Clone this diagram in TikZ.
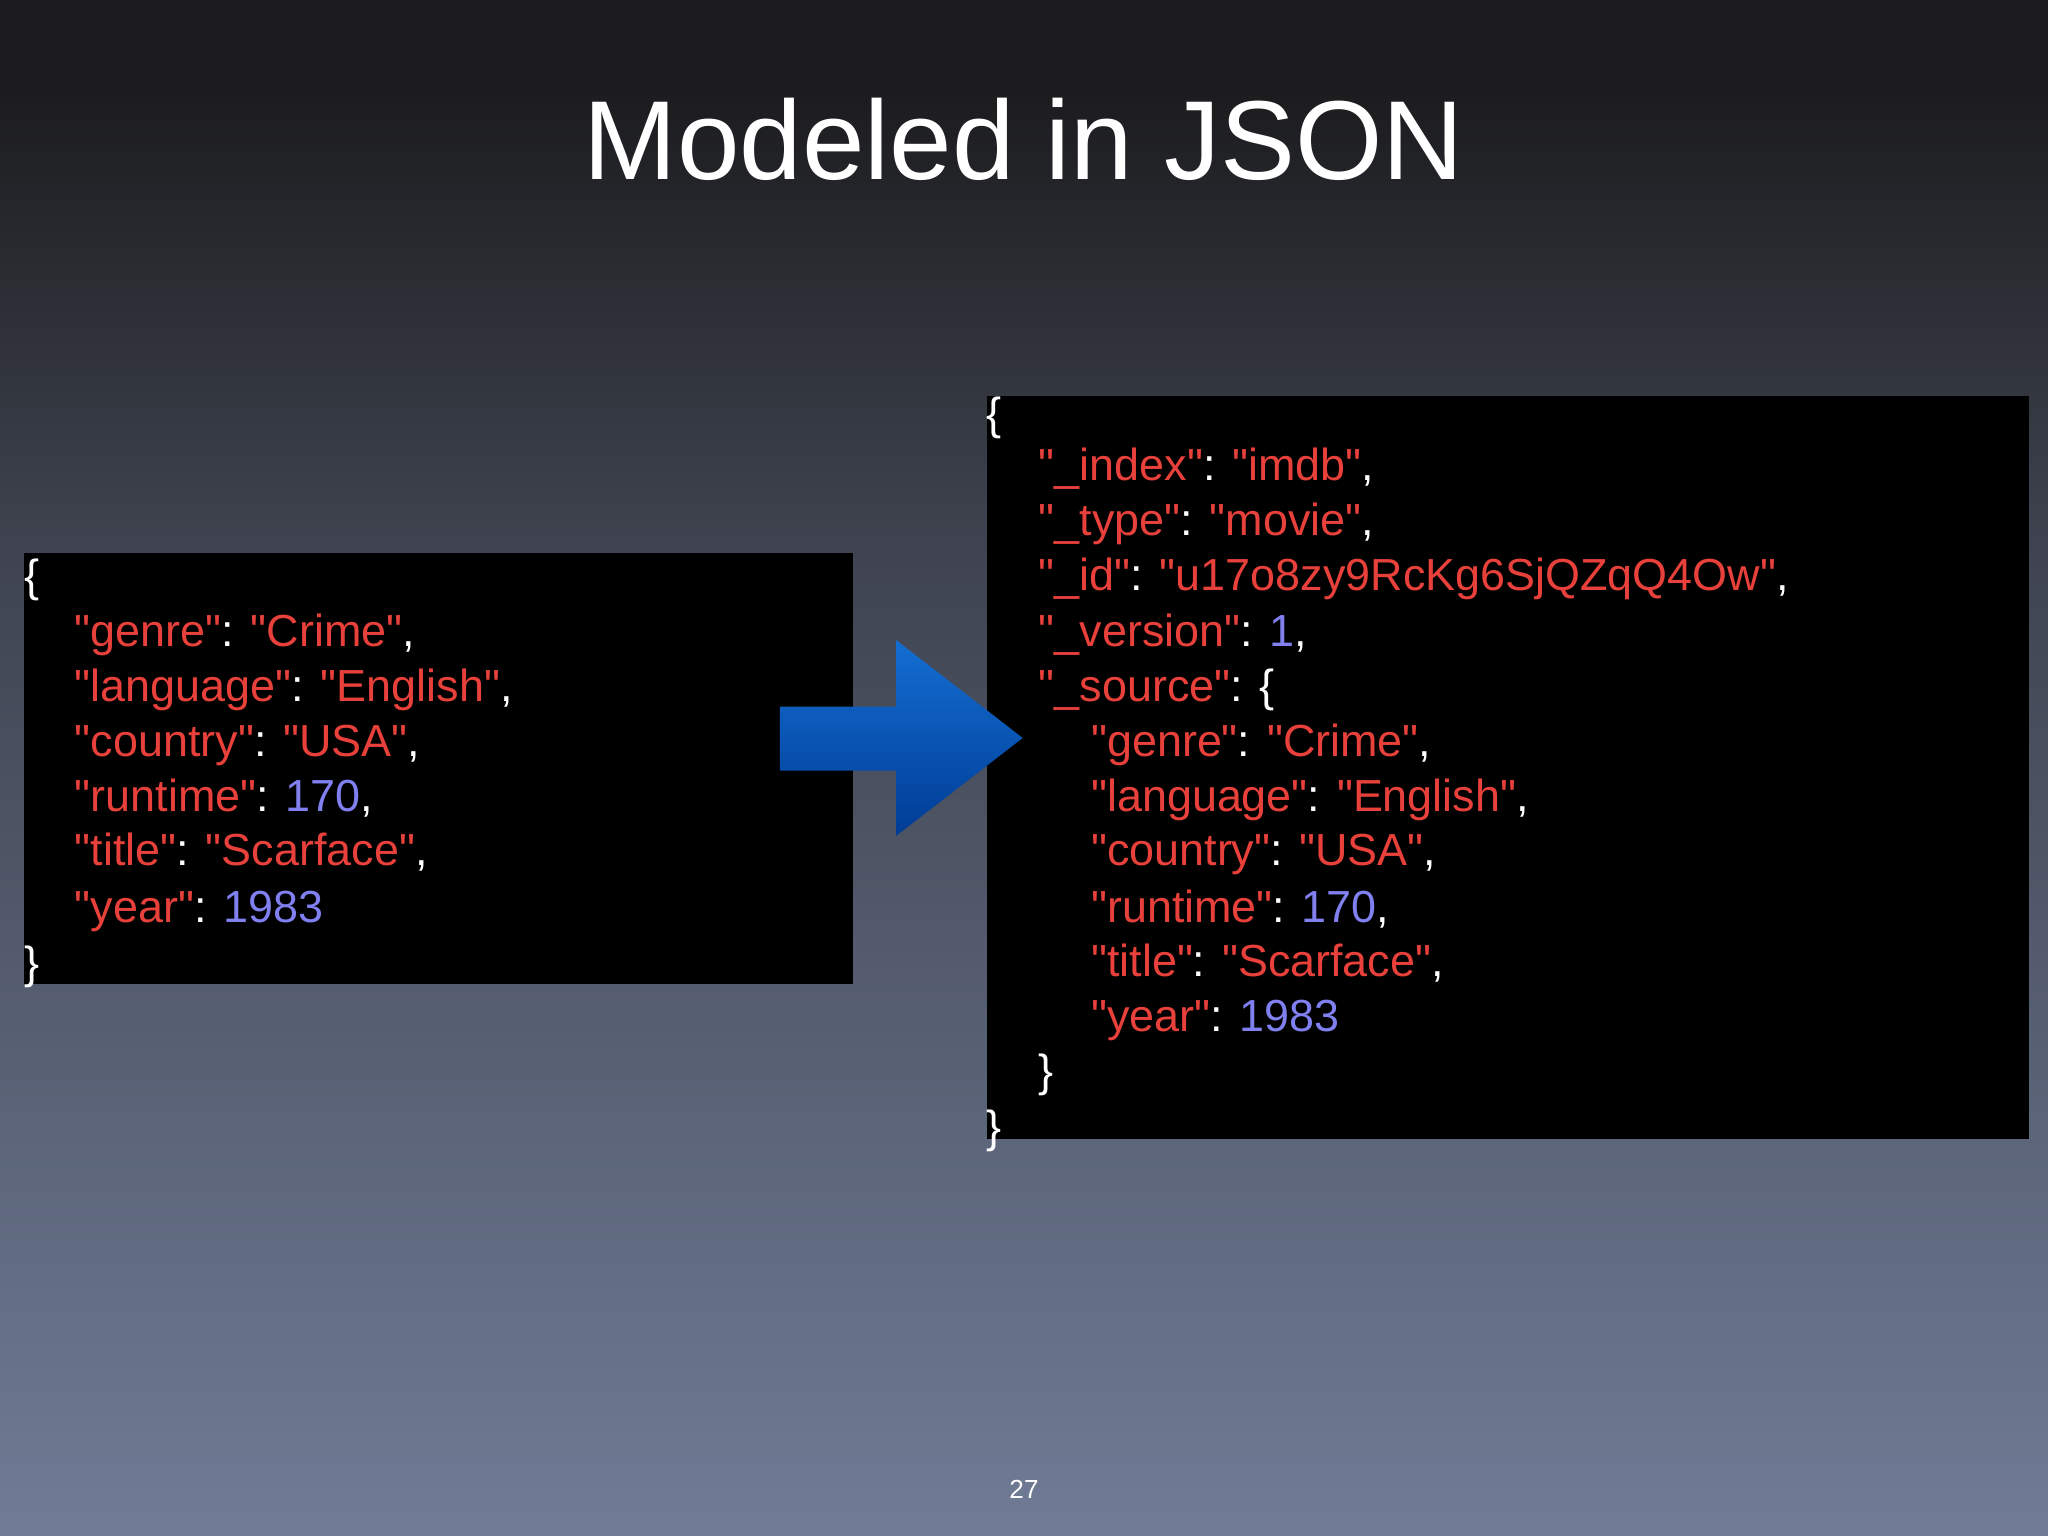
\documentclass[tikz,border=0pt]{standalone}
\usepackage{fontspec}
\setmainfont{Liberation Sans}[Ligatures=TeXOff]
\definecolor{bgtop}{RGB}{27,27,29}
\definecolor{bgbot}{RGB}{112,124,150}
\definecolor{jred}{RGB}{232,64,58}
\definecolor{jnum}{RGB}{128,128,240}
\definecolor{arrA}{RGB}{0,60,150}
\definecolor{arrB}{RGB}{20,110,210}
\newcommand{\Q}{\char34\relax}
\newcommand{\K}[1]{\textcolor{jred}{\Q#1\Q}}
\newcommand{\N}[1]{\textcolor{jnum}{#1}}
\begin{document}
\begin{tikzpicture}[x=0.5pt,y=-0.5pt,
  code/.style={anchor=base west,inner sep=0pt,font=\fontsize{17.2}{20}\selectfont,text=white},
  box/.style={fill=black,draw=none}]
\useasboundingbox (0,0) rectangle (1568,1176);
\fill[bgtop] (0,0) rectangle (1568,60);
\shade[top color=bgtop,bottom color=bgtop!60!bgbot] (0,60) rectangle (1568,400);
\shade[top color=bgtop!60!bgbot,bottom color=bgbot] (0,400) rectangle (1568,1176);
\node[text=white,font=\fontsize{43}{50}\selectfont] (title) at (784,107) {Modeled in JSON};
% left box
\node[box,minimum width=317.5pt,minimum height=165pt,anchor=north west,inner sep=0pt] (lbox) at (18,423) {};
\node[code] (l0) at (18,453) {\{};
\node[code] (l1) at (57,495) {\K{genre}: \K{Crime},};
\node[code] (l2) at (57,537) {\K{language}: \K{English},};
\node[code] (l3) at (57,579) {\K{country}: \K{USA},};
\node[code] (l4) at (57,621) {\K{runtime}: \N{170},};
\node[code] (l5) at (57,663) {\K{title}: \K{Scarface},};
\node[code] (l6) at (57,706) {\K{year}: \N{1983}};
\node[code] (l7) at (18,749) {\}};
% right box
\node[box,minimum width=399pt,minimum height=284.5pt,anchor=north west,inner sep=0pt] (rbox) at (755,303) {};
\node[code] (r0) at (755,329) {\{};
\node[code] (r1) at (795,368) {\K{\_index}: \K{imdb},};
\node[code] (r2) at (795,410) {\K{\_type}: \K{movie},};
\node[code] (r3) at (795,452) {\K{\_id}: \K{u17o8zy9RcKg6SjQZqQ4Ow},};
\node[code] (r4) at (795,495) {\K{\_version}: \N{1},};
\node[code] (r5) at (795,537) {\K{\_source}: \{};
\node[code] (r6) at (835,579) {\K{genre}: \K{Crime},};
\node[code] (r7) at (835,621) {\K{language}: \K{English},};
\node[code] (r8) at (835,663) {\K{country}: \K{USA},};
\node[code] (r9) at (835,706) {\K{runtime}: \N{170},};
\node[code] (r10) at (835,748) {\K{title}: \K{Scarface},};
\node[code] (r11) at (835,790) {\K{year}: \N{1983}};
\node[code] (r12) at (795,832) {\}};
\node[code] (r13) at (755,875) {\}};
% arrow
\shade[top color=arrB,bottom color=arrA] (597,541) -- (686,541) -- (686,490) -- (783,565) -- (686,640) -- (686,590) -- (597,590) -- cycle;
\node[text=white,font=\fontsize{10}{12}\selectfont] (pg) at (784,1140) {27};
\end{tikzpicture}
\end{document}
